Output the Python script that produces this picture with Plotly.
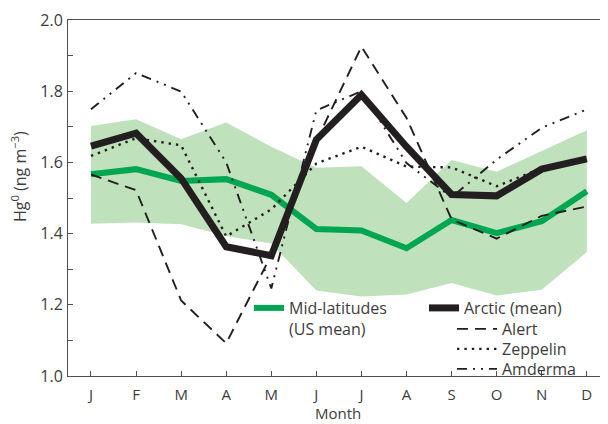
import plotly.graph_objects as go

months = ["J", "F", "M", "A", "M", "J", "J", "A", "S", "O", "N", "D"]

mid_lat_mean = [1.567, 1.581, 1.548, 1.553, 1.509, 1.413, 1.409, 1.359, 1.438, 1.401, 1.435, 1.519]
mid_lat_upper = [1.702, 1.721, 1.665, 1.712, 1.644, 1.585, 1.589, 1.486, 1.607, 1.574, 1.632, 1.690]
mid_lat_lower = [1.428, 1.431, 1.426, 1.393, 1.372, 1.240, 1.223, 1.229, 1.261, 1.226, 1.242, 1.348]

arctic_mean = [1.646, 1.682, 1.555, 1.363, 1.338, 1.664, 1.790, 1.644, 1.510, 1.506, 1.581, 1.610]
alert = [1.566, 1.522, 1.212, 1.092, 1.340, 1.660, 1.925, 1.725, 1.440, 1.386, 1.450, 1.476]
zeppelin = [1.618, 1.668, 1.648, 1.392, 1.468, 1.597, 1.644, 1.588, 1.586, 1.533, 1.584, 1.610]
amderma = [1.749, 1.851, 1.799, 1.600, 1.246, 1.746, 1.800, 1.598, 1.502, 1.608, 1.697, 1.749]

x = list(range(len(months)))

GREEN = "#00a651"
BAND = "#bfe1bb"
BLACK = "#231f20"
TEXT = "#3c3c3c"
AXIS = "#505050"
FONT = "Open Sans"

fig = go.Figure()

fig.add_trace(go.Scatter(x=x, y=mid_lat_lower, mode="lines", line=dict(width=0, color=BAND),
                         showlegend=False, hoverinfo="skip"))
fig.add_trace(go.Scatter(x=x, y=mid_lat_upper, mode="lines", line=dict(width=0, color=BAND),
                         fill="tonexty", fillcolor=BAND, showlegend=False, hoverinfo="skip"))

fig.add_trace(go.Scatter(x=x, y=mid_lat_mean, mode="lines", name="Mid-latitudes<br>(US mean)",
                         line=dict(color=GREEN, width=6), legend="legend"))
fig.add_trace(go.Scatter(x=x, y=arctic_mean, mode="lines", name="Arctic (mean)",
                         line=dict(color=BLACK, width=7), legend="legend2"))
fig.add_trace(go.Scatter(x=x, y=alert, mode="lines", name="Alert",
                         line=dict(color=BLACK, width=1.9, dash="11px,7px"), legend="legend3"))
fig.add_trace(go.Scatter(x=x, y=zeppelin, mode="lines", name="Zeppelin",
                         line=dict(color=BLACK, width=2.4, dash="2.4px,5px"), legend="legend4"))
fig.add_trace(go.Scatter(x=x, y=amderma, mode="lines", name="Amderma",
                         line=dict(color=BLACK, width=1.9, dash="10px,6px,2px,6px,2px,6px"), legend="legend5"))

# The page body adds an 8px offset; the figure is sized so the plot lands where the reference has it.
OFF = 8
W, H = 608 - OFF, 424 - OFF
L, T, R, B = 68 - OFF, 20 - OFF, 0, 48
pw = W - L - R
ph = H - T - B

def px_x(p):
    return (p - OFF - L) / pw

def px_y(p):
    return (H - B - (p - OFF)) / ph

legend_common = dict(bgcolor="rgba(0,0,0,0)", font=dict(family=FONT, size=16, color=TEXT),
                     xanchor="left", yanchor="middle", tracegroupgap=0,
                     itemclick=False, itemdoubleclick=False)

fig.update_layout(
    width=W, height=H,
    margin=dict(l=L, r=R, t=T, b=B, autoexpand=False),
    paper_bgcolor="white", plot_bgcolor="white",
    font=dict(family=FONT, size=16, color=TEXT),
    legend=dict(x=px_x(249), y=px_y(291), yanchor="top", xanchor="left", valign="top",
                bgcolor="rgba(0,0,0,0)", font=dict(family=FONT, size=16, color=TEXT),
                itemwidth=30, itemclick=False, itemdoubleclick=False),
    legend2=dict(x=px_x(424), y=px_y(308), itemwidth=30, **legend_common),
    legend3=dict(x=px_x(452), y=px_y(329), itemwidth=40, **legend_common),
    legend4=dict(x=px_x(452), y=px_y(349), itemwidth=40, **legend_common),
    legend5=dict(x=px_x(452), y=px_y(369), itemwidth=40, **legend_common),
    xaxis=dict(
        range=[-0.51, 11.47], tickvals=x, ticktext=months,
        showline=True, linecolor=AXIS, linewidth=1, mirror=True,
        ticks="inside", ticklen=5, tickcolor=AXIS, tickwidth=1,
        showgrid=False, zeroline=False, ticklabelstandoff=5,
        tickfont=dict(family=FONT, size=15, color=TEXT),
    ),
    yaxis=dict(
        range=[1.0, 2.0], dtick=0.2, tick0=1.0, tickformat=".1f",
        showline=True, linecolor=AXIS, linewidth=1,
        ticks="inside", ticklen=5, tickcolor=AXIS, tickwidth=1,
        minor=dict(dtick=0.1, ticks="inside", ticklen=5, tickcolor=AXIS, showgrid=False),
        showgrid=False, zeroline=False, ticklabelstandoff=1,
        tickfont=dict(family=FONT, size=16, color=TEXT),
    ),
    annotations=[
        dict(
            text="Hg<sup>0</sup> (ng m<sup>−3</sup>)", textangle=-90,
            xref="paper", yref="paper", x=px_x(19), y=px_y(177),
            xanchor="center", yanchor="middle", showarrow=False,
            font=dict(family=FONT, size=16, color=TEXT),
        ),
        dict(
            text="Month", xref="paper", yref="paper", x=px_x(338), y=px_y(413),
            xanchor="center", yanchor="middle", showarrow=False, borderpad=0,
            font=dict(family=FONT, size=15, color=TEXT),
        ),
    ],
)

fig.write_html("out.html")
